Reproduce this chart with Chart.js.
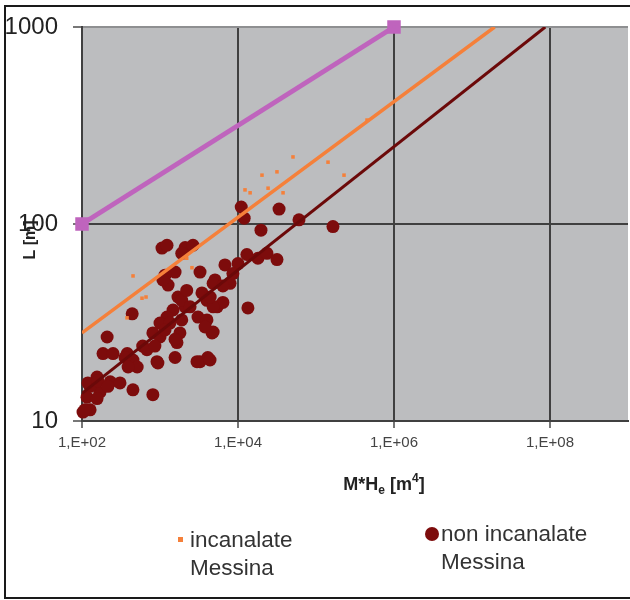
<!DOCTYPE html>
<html>
<head>
<meta charset="utf-8">
<script src="https://cdn.jsdelivr.net/npm/chart.js@4.4.1/dist/chart.umd.min.js"></script>
<style>
  body { margin: 0; background: #fff; }
  #wrap { position: relative; width: 630px; height: 600px; overflow: hidden; }
  #frame { position: absolute; left: 4px; top: 5px; width: 700px; height: 590px; border: 2px solid #1a1a1a; pointer-events: none; }
  .leg { position: absolute; font-family: Arial, "Liberation Sans", sans-serif; font-size: 22.5px; line-height: 28px; color: #333; }
  .leg .mk { position: absolute; }
</style>
</head>
<body>
<div id="wrap">
  <!-- canvas a bit wider than the page so the plot runs out to the right edge -->
  <canvas id="chart" width="639" height="600"></canvas>
  <div id="frame"></div>
  <div class="leg" style="left:190px; top:526px;">
    <span class="mk" style="left:-12px; top:11px; width:5px; height:5px; background:#f5803a;"></span>
    incanalate<br>Messina
  </div>
  <div class="leg" style="left:441px; top:520px;">
    <span class="mk" style="left:-16px; top:7px; width:14px; height:14px; border-radius:50%; background:#7d0c0c;"></span>
    non incanalate<br>Messina
  </div>
</div>
<script>
// M*He [m^4] vs L [m], log-log
var xTicks = [1e2, 1e4, 1e6, 1e8];
var yTicks = [10, 100, 1000];

// reference line (purple)
var limitLine = [{x: 100, y: 100}, {x: 1e6, y: 1000}];

// power-law fits
var fitIncanalate = [{x: 100, y: 28}, {x: 1.95e7, y: 1000}];
var fitNonIncanalate = [{x: 100, y: 13.8}, {x: 8.7e7, y: 1000}];

var incanalateX = [451, 588, 662, 378, 2200, 2570, 12300, 14300, 20300, 31600, 50700, 24300, 37800, 142600, 228600, 451000];
var incanalateY = [54.5, 42, 42.6, 33.4, 67, 60, 149, 144, 177, 184, 219, 152, 144, 206, 177, 337];

var nonIncX = [11000, 12000, 33600, 19700, 60500, 165000, 13000, 18000, 23500, 31600,
  6800, 10000, 5070, 7900, 3450, 4000, 5400, 6400, 13400, 1700,
  2100, 3070, 2100, 2650, 1060, 1230, 1560, 3260, 1160, 1270,
  440, 1900, 1470, 1230, 1000, 2200, 2430, 4800, 1900, 1800,
  1650, 1560, 4000, 4800, 3260, 4100, 915, 810, 600, 380,
  450, 510, 210, 186, 250, 156, 170, 230, 127, 116,
  103, 127, 307, 450, 810, 680, 1000, 1340, 356, 390,
  940, 1560, 860, 119, 160, 215, 156, 109, 1160, 4650,
  3780, 2980, 4380, 8600, 6400, 4800, 4400, 1090, 1900];
var nonIncY = [122, 107, 119, 93, 105, 97, 70, 67, 71, 66,
  62, 63, 52, 50, 44.7, 41, 38, 40, 37.5, 42.6,
  38, 33.7, 76, 78, 75.5, 78, 57, 57, 55, 49,
  35, 41, 36.6, 33.7, 31.4, 46, 38, 50, 32.6, 28,
  25, 21, 32.6, 28.3, 20, 21, 20, 28, 24, 22,
  20.4, 18.8, 26.7, 22, 22, 16.7, 14, 15.8, 15, 13.2,
  11.1, 11.4, 15.6, 14.4, 13.6, 23, 26.7, 31.4, 21, 18.8,
  19.7, 26, 24, 15.6, 16, 15, 13, 11.4, 29, 28,
  30, 20, 20.4, 56, 48.5, 38, 42.6, 52, 71];

function toPoints(xs, ys) {
  return xs.map(function (x, i) { return {x: x, y: ys[i]}; });
}

var FONT = 'Arial, "Liberation Sans", sans-serif';

var plotBg = {
  id: 'plotBg',
  beforeDraw: function (chart) {
    var a = chart.chartArea, ctx = chart.ctx;
    ctx.save();
    ctx.fillStyle = '#bcbdbf';
    ctx.fillRect(a.left, a.top, a.right - a.left, a.bottom - a.top);
    ctx.restore();
  }
};

var axisTitles = {
  id: 'axisTitles',
  afterDraw: function (chart) {
    var ctx = chart.ctx;
    ctx.save();
    ctx.fillStyle = '#222';
    // y title
    ctx.translate(31, 240);
    ctx.rotate(-Math.PI / 2);
    ctx.font = 'bold 16px ' + FONT;
    ctx.textAlign = 'center';
    ctx.textBaseline = 'middle';
    ctx.fillText('L [m]', 0, 0);
    ctx.setTransform(1, 0, 0, 1, 0, 0);
    // x title with sub/superscript
    var parts = [
      {t: 'M*H', f: 'bold 18px ', dy: 0},
      {t: 'e', f: 'bold 12px ', dy: 4},
      {t: ' [m', f: 'bold 18px ', dy: 0},
      {t: '4', f: 'bold 12px ', dy: -8},
      {t: ']', f: 'bold 18px ', dy: 0}
    ];
    var w = 0;
    parts.forEach(function (p) { ctx.font = p.f + FONT; w += ctx.measureText(p.t).width; });
    var x = 384 - w / 2;
    ctx.textAlign = 'left';
    ctx.textBaseline = 'alphabetic';
    parts.forEach(function (p) {
      ctx.font = p.f + FONT;
      ctx.fillText(p.t, x, 490 + p.dy);
      x += ctx.measureText(p.t).width;
    });
    ctx.restore();
  }
};

var ctx = document.getElementById('chart').getContext('2d');
var chart = new Chart(ctx, {
  type: 'scatter',
  data: {
    datasets: [{
      label: 'limite',
      data: limitLine,
      showLine: true,
      clip: false,
      borderColor: '#bf64bd',
      backgroundColor: '#bf64bd',
      borderWidth: 5,
      pointStyle: 'rect',
      pointRadius: 6,
      pointHoverRadius: 6
    }, {
      label: 'fit incanalate',
      data: fitIncanalate,
      showLine: true,
      borderColor: '#f5803a',
      borderWidth: 3.5,
      pointRadius: 0
    }, {
      label: 'fit non incanalate',
      data: fitNonIncanalate,
      showLine: true,
      borderColor: '#6b0909',
      borderWidth: 3,
      pointRadius: 0
    }, {
      label: 'incanalate Messina',
      data: toPoints(incanalateX, incanalateY),
      pointStyle: 'rect',
      pointRadius: 2.5,
      backgroundColor: '#f5803a',
      borderColor: '#f5803a',
      borderWidth: 0
    }, {
      label: 'non incanalate Messina',
      data: toPoints(nonIncX, nonIncY),
      clip: false,
      pointRadius: 6.5,
      backgroundColor: '#7d0c0c',
      borderColor: '#7d0c0c',
      borderWidth: 0
    }]
  },
  options: {
    responsive: false,
    animation: false,
    layout: { padding: { left: 0, top: 27, right: 2, bottom: 0 } },
    plugins: {
      legend: { display: false },
      tooltip: { enabled: false }
    },
    scales: {
      x: {
        type: 'logarithmic',
        min: 1e2,
        max: 1e9,
        afterBuildTicks: function (scale) {
          scale.ticks = xTicks.map(function (v) { return {value: v}; });
        },
        afterFit: function (scale) {
          scale.height = 179;
          scale.paddingLeft = 0;
          scale.paddingRight = 0;
        },
        ticks: {
          autoSkip: false,
          maxRotation: 0,
          padding: 6,
          color: '#444',
          font: { family: FONT, size: 15 },
          callback: function (v) {
            var e = Math.round(Math.log10(v));
            return '1,E+' + (e < 10 ? '0' : '') + e;
          }
        },
        grid: { color: '#404040', lineWidth: 2, tickLength: 7, tickColor: '#777' },
        border: { color: '#404040', width: 2 }
      },
      y: {
        type: 'logarithmic',
        min: 10,
        max: 1000,
        afterBuildTicks: function (scale) {
          scale.ticks = yTicks.map(function (v) { return {value: v}; });
        },
        afterFit: function (scale) {
          scale.width = 82;
          scale.paddingTop = 0;
          scale.paddingBottom = 0;
        },
        ticks: {
          autoSkip: false,
          padding: 15,
          color: '#222',
          font: { family: FONT, size: 24 },
          callback: function (v) { return String(v); }
        },
        grid: {
          color: function (c) { return c.tick && c.tick.value === 1000 ? '#8e8f91' : '#404040'; },
          lineWidth: 2,
          tickLength: 9,
          tickColor: '#777'
        },
        border: { color: '#404040', width: 2 }
      }
    }
  },
  plugins: [plotBg, axisTitles]
});
</script>
</body>
</html>
